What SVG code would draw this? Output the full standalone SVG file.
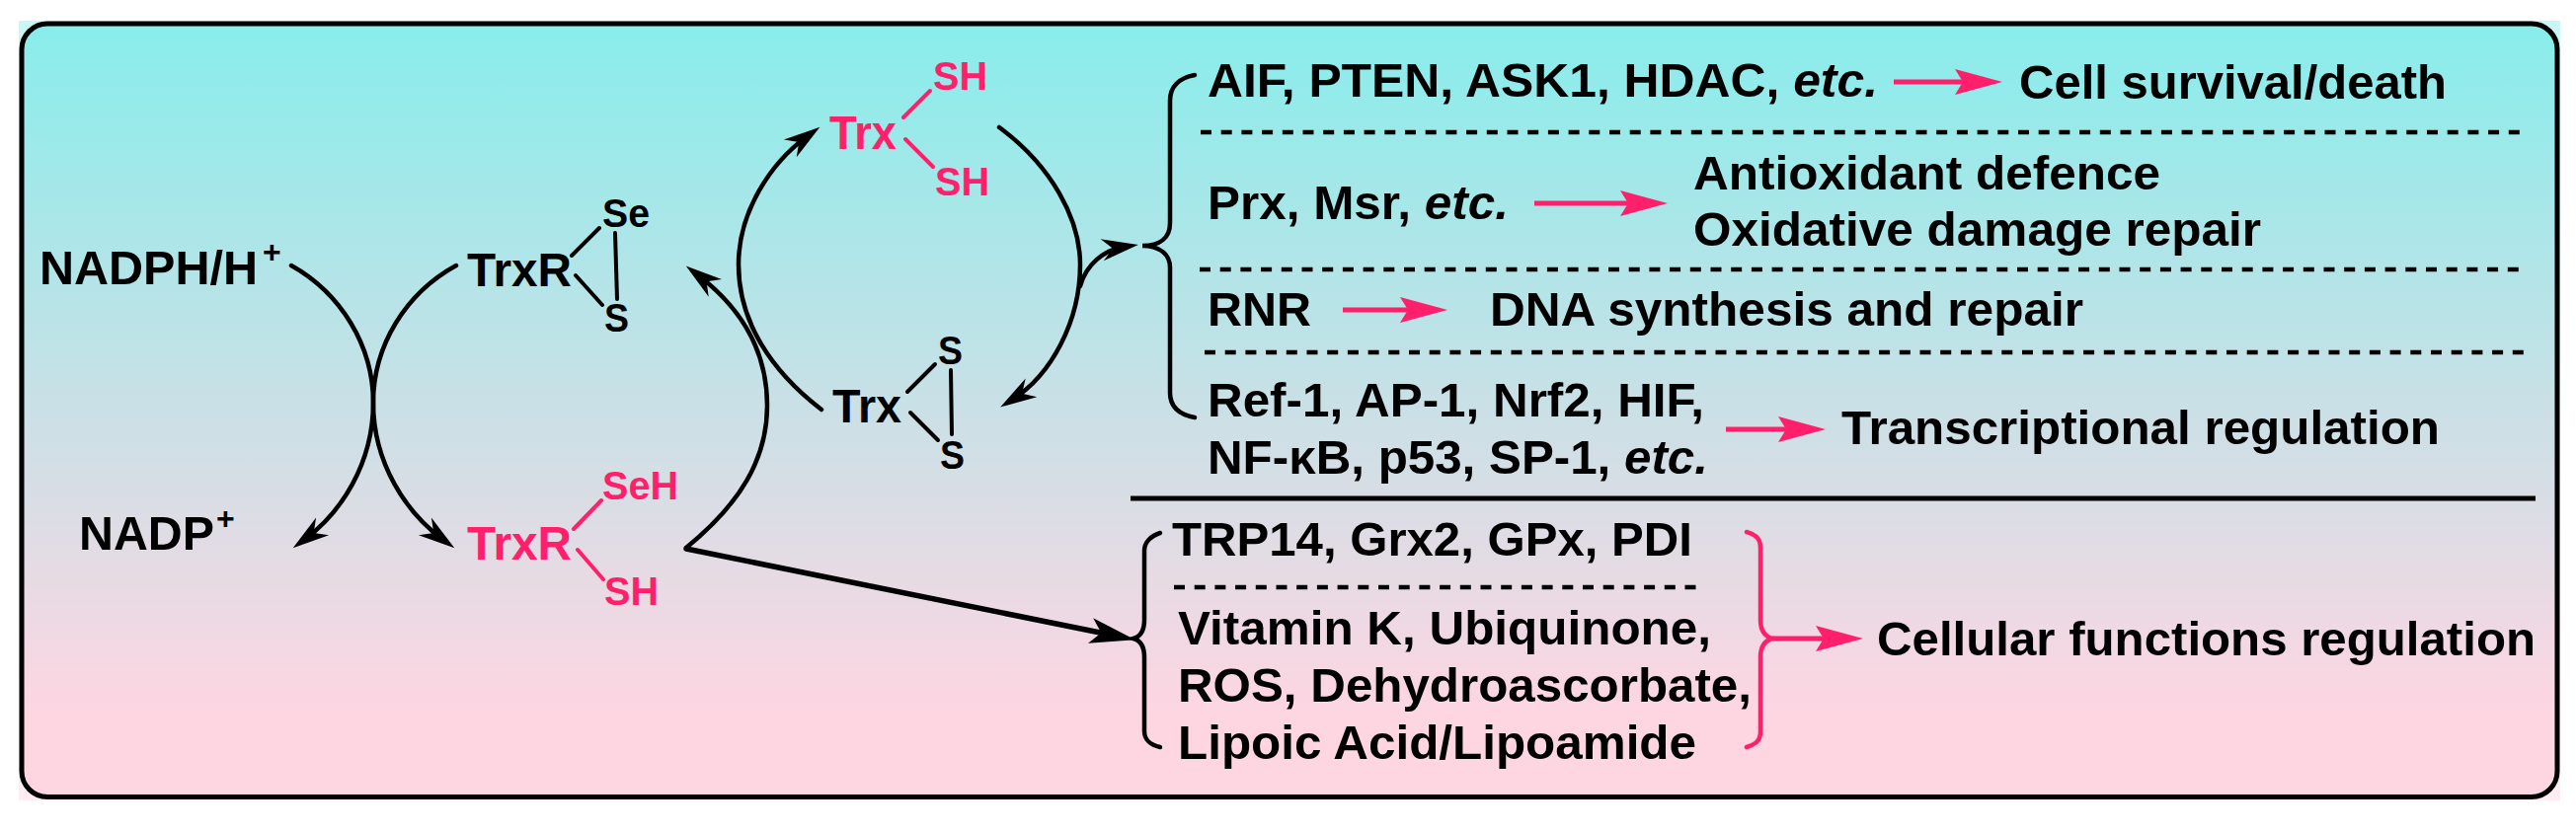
<svg xmlns="http://www.w3.org/2000/svg" width="2609" height="842" viewBox="0 0 2609 842">
<defs>
<linearGradient id="bg" x1="0" y1="0" x2="0" y2="1"><stop offset="0" stop-color="#88edeb"/><stop offset="0.887" stop-color="#fdd6e2"/><stop offset="1" stop-color="#fdd6e2"/></linearGradient>
<marker id="ah" markerUnits="userSpaceOnUse" markerWidth="44" markerHeight="26" refX="26" refY="13" orient="auto" viewBox="0 0 44 26"><path d="M3 2 L40 13 L3 24 L14 13 Z" fill="#000"/></marker>
<marker id="ah2" markerUnits="userSpaceOnUse" markerWidth="52" markerHeight="30" refX="32" refY="15" orient="auto" viewBox="0 0 52 30"><path d="M2 2 L48 15 L2 28 L13 15 Z" fill="#000"/></marker>
<marker id="ap" markerUnits="userSpaceOnUse" markerWidth="52" markerHeight="30" refX="30" refY="15" orient="auto" viewBox="0 0 52 30"><path d="M2 2 L50 15 L2 28 L10 15 Z" fill="#ff1f6b"/></marker>
<style>
text{font-family:"Liberation Sans",Arial,sans-serif;font-weight:bold;font-size:48px;fill:#000}
.p{fill:#ff1f6b}
.sm{font-size:41px}
.sup{font-size:32px}
.i{font-style:italic}
.b{fill:none;stroke:#000;stroke-width:4.5px;stroke-linecap:round}
.bp{fill:none;stroke:#ff1f6b;stroke-width:4.5px;stroke-linecap:round}
.a{fill:none;stroke:#000;stroke-width:4.5px;stroke-linecap:round;marker-end:url(#ah)}
.a2{fill:none;stroke:#000;stroke-width:5.5px;stroke-linecap:round;marker-end:url(#ah2)}
.ar{fill:none;stroke:#ff1f6b;stroke-width:5px;marker-end:url(#ap)}
.d{stroke:#000;stroke-width:4.5px;stroke-dasharray:11 9.7;fill:none}
.bd{stroke:#000;stroke-width:4px;fill:none;stroke-linecap:round}
.bdp{stroke:#ff1f6b;stroke-width:4px;fill:none;stroke-linecap:round}
</style>
</defs>
<rect x="19" y="21" width="2574" height="790" fill="url(#bg)" fill-opacity=".45"/>
<rect id="panel" x="22" y="24" width="2568" height="783.5" rx="26" fill="url(#bg)" stroke="#000" stroke-width="5"/>
<g id="connectors">
<path class="a" d="M295 269 C345 297 378 350 378 408 C378 470 345 520 308 547"/>
<path class="a" d="M462 269 C411 297 378 350 378 408 C378 470 412 520 449 547"/>
<path class="a" d="M695 555 C750 510 777 465 777 411 C777 360 755 315 706 278"/>
<path class="a" d="M832 415 C780 375 748 325 748 268 C748 215 780 165 819 137"/>
<path class="a" d="M1012 129 C1065 168 1094 222 1094 268 C1094 325 1065 380 1025 405"/>
<path class="a" d="M1094 290 C1100 268 1118 253 1139 250"/>
<path class="a2" d="M695 556 L1134 645"/>
<path class="ar" d="M1918 83 H2008"/>
<path class="ar" d="M1554 206 H1669"/>
<path class="ar" d="M1360 314 H1446"/>
<path class="ar" d="M1748 435 H1829"/>
<path class="ar" d="M1795 647 H1867"/>
<path class="d" d="M1216 134 H2560"/>
<path class="d" d="M1215 273 H2560"/>
<path class="d" d="M1220 357 H2560"/>
<path class="d" d="M1189 595 H1718"/>
<path d="M1145 505 H2568" stroke="#000" stroke-width="5" fill="none"/>
<path class="b" d="M1210 76 C1194 79 1185 88 1185 102 V226 C1185 241 1175 249 1157 249 C1175 249 1185 258 1185 271 V398 C1185 412 1194 420 1210 423"/>
<path class="b" d="M1175 540 C1165 543 1159 550 1159 558 V628 C1159 639 1155 645 1148 647 C1155 649 1159 655 1159 666 V741 C1159 749 1165 755 1175 757"/>
<path class="bp" d="M1769 539 C1779 542 1783 546 1783 555 V628 C1783 639 1788 645 1795 647 C1788 649 1783 655 1783 666 V741 C1783 750 1779 754 1769 757"/>
</g>
<g id="nadph"><text x="40" y="288" textLength="221" lengthAdjust="spacingAndGlyphs">NADPH/H</text><text class="sup" x="266" y="266">+</text></g>
<g id="nadp"><text x="80" y="557" textLength="137" lengthAdjust="spacingAndGlyphs">NADP</text><text class="sup" x="219" y="536">+</text></g>
<g id="trxr-ox"><text x="473" y="290" textLength="106" lengthAdjust="spacingAndGlyphs">TrxR</text><text class="sm" x="610" y="230" textLength="48" lengthAdjust="spacingAndGlyphs">Se</text><text class="sm" x="612" y="336" textLength="25" lengthAdjust="spacingAndGlyphs">S</text>
<path class="bd" d="M579 259 L607 231 M583 279 L610 309 M623 236 L625 303"/></g>
<g id="trxr-red"><text class="p" x="473" y="567" textLength="106" lengthAdjust="spacingAndGlyphs">TrxR</text><text class="sm p" x="610" y="506" textLength="77" lengthAdjust="spacingAndGlyphs">SeH</text><text class="sm p" x="612" y="613" textLength="55" lengthAdjust="spacingAndGlyphs">SH</text>
<path class="bdp" d="M581 536 L609 507 M585 557 L611 587"/></g>
<g id="trx-red"><text class="p" x="840" y="151" textLength="68" lengthAdjust="spacingAndGlyphs">Trx</text><text class="sm p" x="945" y="91" textLength="55" lengthAdjust="spacingAndGlyphs">SH</text><text class="sm p" x="947" y="198" textLength="55" lengthAdjust="spacingAndGlyphs">SH</text>
<path class="bdp" d="M915 119 L942 92 M917 141 L945 169"/></g>
<g id="trx-ox"><text x="843" y="428" textLength="70" lengthAdjust="spacingAndGlyphs">Trx</text><text class="sm" x="950" y="369" textLength="25" lengthAdjust="spacingAndGlyphs">S</text><text class="sm" x="952" y="475" textLength="25" lengthAdjust="spacingAndGlyphs">S</text>
<path class="bd" d="M919 397 L947 369 M922 418 L950 446 M963 375 L964 440"/></g>
<g id="row1"><text x="1223" y="98" textLength="679" lengthAdjust="spacingAndGlyphs">AIF, PTEN, ASK1, HDAC, <tspan class="i">etc.</tspan></text><text x="2045" y="100" textLength="433" lengthAdjust="spacingAndGlyphs">Cell survival/death</text></g>
<g id="row2"><text x="1223" y="222" textLength="305" lengthAdjust="spacingAndGlyphs">Prx, Msr, <tspan class="i">etc.</tspan></text><text x="1715" y="192" textLength="473" lengthAdjust="spacingAndGlyphs">Antioxidant defence</text><text x="1715" y="249" textLength="575" lengthAdjust="spacingAndGlyphs">Oxidative damage repair</text></g>
<g id="row3"><text x="1223" y="330" textLength="105" lengthAdjust="spacingAndGlyphs">RNR</text><text x="1509" y="330" textLength="601" lengthAdjust="spacingAndGlyphs">DNA synthesis and repair</text></g>
<g id="row4"><text x="1223" y="422" textLength="503" lengthAdjust="spacingAndGlyphs">Ref-1, AP-1, Nrf2, HIF,</text><text x="1223" y="480" textLength="507" lengthAdjust="spacingAndGlyphs">NF-κB, p53, SP-1, <tspan class="i">etc.</tspan></text><text x="1865" y="450" textLength="606" lengthAdjust="spacingAndGlyphs">Transcriptional regulation</text></g>
<g id="row5"><text x="1187" y="563" textLength="527" lengthAdjust="spacingAndGlyphs">TRP14, Grx2, GPx, PDI</text><text x="1193" y="653" textLength="540" lengthAdjust="spacingAndGlyphs">Vitamin K, Ubiquinone,</text><text x="1193" y="711" textLength="581" lengthAdjust="spacingAndGlyphs">ROS, Dehydroascorbate,</text><text x="1193" y="769" textLength="525" lengthAdjust="spacingAndGlyphs">Lipoic Acid/Lipoamide</text><text x="1901" y="664" textLength="667" lengthAdjust="spacingAndGlyphs">Cellular functions regulation</text></g>
</svg>
